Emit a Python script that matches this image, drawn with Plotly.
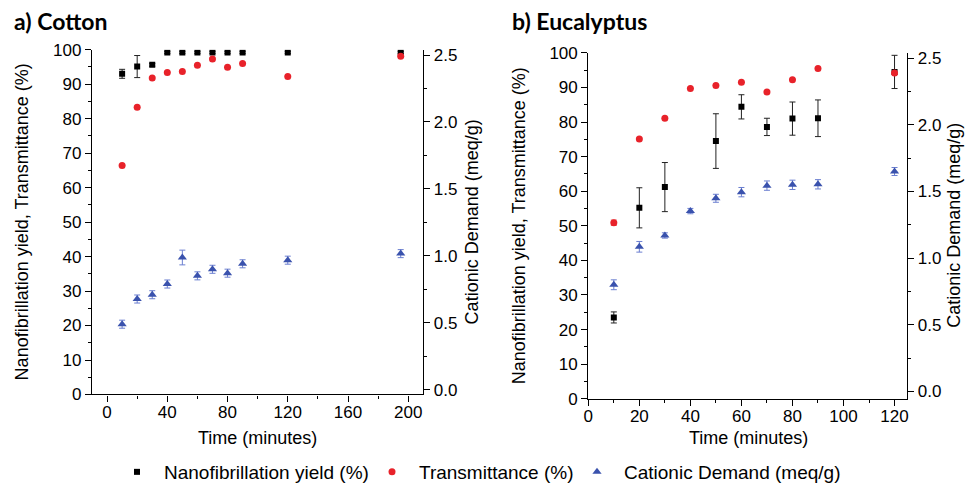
import plotly.graph_objects as go

# ---------------- data ----------------
cotton_time = [10, 20, 30, 40, 50, 60, 70, 80, 90, 120, 195]
cotton_yield = [93.0, 95.1, 95.6, 99.2, 99.2, 99.2, 99.2, 99.2, 99.2, 99.2, 99.2]
cotton_yield_err = [1.3, 3.2, 0.4, 0.3, 0.3, 0.3, 0.3, 0.3, 0.3, 0.3, 0.3]
cotton_trans = [66.4, 83.3, 91.8, 93.4, 93.7, 95.5, 97.3, 94.9, 96.0, 92.2, 98.1]
cotton_cd = [0.49, 0.678, 0.71, 0.79, 0.988, 0.851, 0.90, 0.871, 0.941, 0.968, 1.017]
cotton_cd_err = [0.03, 0.03, 0.03, 0.03, 0.055, 0.03, 0.03, 0.03, 0.03, 0.03, 0.03]

euc_time = [10, 20, 30, 40, 50, 60, 70, 80, 90, 120]
euc_yield = [23.5, 55.2, 61.2, None, 74.5, 84.4, 78.6, 81.0, 81.1, 94.5]
euc_yield_err = [1.6, 5.8, 7.1, None, 7.9, 3.5, 2.5, 4.8, 5.3, 4.8]
euc_trans = [50.9, 75.1, 81.1, 89.7, 90.6, 91.5, 88.7, 92.2, 95.5, 94.2]
euc_trans_err = [0.8, 0, 0, 0, 0, 0, 0, 0, 0, 0]
euc_cd = [0.80, 1.085, 1.17, 1.353, 1.449, 1.495, 1.544, 1.55, 1.554, 1.65]
euc_cd_err = [0.037, 0.04, 0.02, 0.02, 0.03, 0.035, 0.035, 0.035, 0.035, 0.03]

names = ["Nanofibrillation yield (%)", "Transmittance (%)", "Cationic Demand (meq/g)"]
panel_labels = ["a) Cotton", "b) Eucalyptus"]
x_title = "Time (minutes)"
y_left_title = "Nanofibrillation yield, Transmittance (%)"
y_right_title = "Cationic Demand (meq/g)"

# ---------------- style ----------------
BLACK = "#000000"
RED = "#e8222a"
BLUE = "#3a52ad"
BLUE_ERR = "#6b7fd0"
FONT = "Liberation Sans, Arial, sans-serif"
W, H = 965, 491

def px_x(p):
    return p / W

def px_y(p):
    return 1 - p / H

fig = go.Figure()

# left panel (cotton)
fig.add_trace(go.Scatter(
    x=cotton_time, y=cotton_yield, mode="markers", name=names[0], legend="legend",
    marker=dict(symbol="square", size=6, color=BLACK),
    error_y=dict(type="data", array=cotton_yield_err, visible=True, color="#222222",
                 thickness=1, width=3),
    xaxis="x", yaxis="y"))
fig.add_trace(go.Scatter(
    x=cotton_time, y=cotton_trans, mode="markers", name=names[1], legend="legend2",
    marker=dict(symbol="circle", size=7, color=RED),
    xaxis="x", yaxis="y"))
fig.add_trace(go.Scatter(
    x=cotton_time, y=cotton_cd, mode="markers", name=names[2], legend="legend3",
    marker=dict(symbol="triangle-up", size=8, color=BLUE),
    error_y=dict(type="data", array=cotton_cd_err, visible=True, color=BLUE_ERR,
                 thickness=1, width=3),
    xaxis="x", yaxis="y2"))

# right panel (eucalyptus)
fig.add_trace(go.Scatter(
    x=euc_time, y=euc_yield, mode="markers", name=names[0], showlegend=False,
    marker=dict(symbol="square", size=6, color=BLACK),
    error_y=dict(type="data", array=euc_yield_err, visible=True, color="#222222",
                 thickness=1, width=3),
    xaxis="x2", yaxis="y3"))
fig.add_trace(go.Scatter(
    x=euc_time, y=euc_trans, mode="markers", name=names[1], showlegend=False,
    marker=dict(symbol="circle", size=7, color=RED),
    error_y=dict(type="data", array=euc_trans_err, visible=True, color="#f08080",
                 thickness=1, width=3),
    xaxis="x2", yaxis="y3"))
fig.add_trace(go.Scatter(
    x=euc_time, y=euc_cd, mode="markers", name=names[2], showlegend=False,
    marker=dict(symbol="triangle-up", size=8, color=BLUE),
    error_y=dict(type="data", array=euc_cd_err, visible=True, color=BLUE_ERR,
                 thickness=1, width=3),
    xaxis="x2", yaxis="y4"))

tickfont = dict(family=FONT, size=17, color="black")
common = dict(showline=True, linecolor="black", linewidth=1.3, ticks="outside",
              ticklen=6, tickwidth=1.2, tickcolor="black", showgrid=False,
              zeroline=False, tickfont=tickfont, automargin=False)
minor_out = dict(ticks="outside", ticklen=3, tickwidth=1, tickcolor="black", showgrid=False)
minor_in = dict(ticks="inside", ticklen=3, tickwidth=1, tickcolor="black", showgrid=False)
top_common = dict(showticklabels=False, showline=True, linecolor="black",
                  linewidth=1.3, ticks="inside", ticklen=6, tickwidth=1.2,
                  tickcolor="black", showgrid=False, zeroline=False, automargin=False)

L_dom_x = [px_x(92), px_x(423.3)]
L_dom_y = [px_y(402.7), px_y(50.7)]
R_dom_x = [px_x(588.3), px_x(907.3)]
R_dom_y = [px_y(407), px_y(54)]

legend_font = dict(family=FONT, size=19, color="black")
ITEMW = 44
def leg(marker_px):
    return dict(orientation="h", x=px_x(marker_px - (ITEMW / 2 + 5)), xanchor="left",
                y=px_y(482), yanchor="middle", font=legend_font,
                bgcolor="rgba(0,0,0,0)", borderwidth=0, itemclick=False,
                itemwidth=ITEMW)

fig.update_layout(
    template="none",
    width=W, height=H, margin=dict(l=0, r=0, t=0, b=0, pad=0), autosize=False,
    paper_bgcolor="white", plot_bgcolor="white",
    font=dict(family=FONT, color="black"),
    xaxis=dict(domain=L_dom_x, range=[-10, 210], tick0=0, dtick=40, anchor="y",
               ticklabelstandoff=-4,
               minor=dict(dtick=20, **minor_out), **common),
    yaxis=dict(domain=L_dom_y, range=[0, 100], tick0=0, dtick=10, anchor="x",
               minor=dict(dtick=5, **minor_out), **common),
    yaxis2=dict(overlaying="y", side="right", anchor="x", range=[-0.035, 2.54],
                tick0=0, dtick=0.5, tickformat=".1f",
                minor=dict(dtick=0.25, **minor_out), **common),
    xaxis3=dict(overlaying="x", side="top", anchor="y", range=[-10, 210], tick0=0,
                dtick=40, minor=dict(dtick=20, **minor_in), **top_common),
    xaxis2=dict(domain=R_dom_x, range=[0, 125], tick0=0, dtick=20, anchor="y3",
                ticklabelstandoff=-4,
                minor=dict(dtick=10, **minor_out), **common),
    yaxis3=dict(domain=R_dom_y, range=[0, 100], tick0=0, dtick=10, anchor="x2",
                minor=dict(dtick=5, **minor_out), **common),
    yaxis4=dict(overlaying="y3", side="right", anchor="x2", range=[-0.055, 2.54],
                tick0=0, dtick=0.5, tickformat=".1f",
                minor=dict(dtick=0.25, **minor_out), **common),
    xaxis4=dict(overlaying="x2", side="top", anchor="y3", range=[0, 125], tick0=0,
                dtick=20, minor=dict(dtick=10, **minor_in), **top_common),
    legend=leg(137),
    legend2=leg(392),
    legend3=leg(597),
    showlegend=True,
)

title_font = dict(family=FONT, size=18, color="black")
label_font = dict(family="Lato, Open Sans, sans-serif", size=23, color="black")
ann = []
ann.append(dict(text="<b>%s</b>" % panel_labels[0], x=px_x(12), y=px_y(21),
                xanchor="left", yanchor="middle", font=label_font))
ann.append(dict(text="<b>%s</b>" % panel_labels[1], x=px_x(510), y=px_y(21),
                xanchor="left", yanchor="middle", font=label_font))
ann.append(dict(text=x_title, x=px_x(257.5), y=px_y(447), xanchor="center",
                yanchor="middle", font=title_font))
ann.append(dict(text=x_title, x=px_x(748), y=px_y(447), xanchor="center",
                yanchor="middle", font=title_font))
ann.append(dict(text=y_left_title, x=px_x(22), y=px_y(227), textangle=-90,
                xanchor="center", yanchor="middle", font=title_font))
ann.append(dict(text=y_right_title, x=px_x(472), y=px_y(227), textangle=-90,
                xanchor="center", yanchor="middle", font=title_font))
ann.append(dict(text=y_left_title, x=px_x(518.5), y=px_y(230.5), textangle=-90,
                xanchor="center", yanchor="middle", font=title_font))
ann.append(dict(text=y_right_title, x=px_x(954), y=px_y(230.5), textangle=-90,
                xanchor="center", yanchor="middle", font=title_font))
for a in ann:
    a.update(xref="paper", yref="paper", showarrow=False)
fig.update_layout(annotations=ann)

fig.write_html("out.html")
